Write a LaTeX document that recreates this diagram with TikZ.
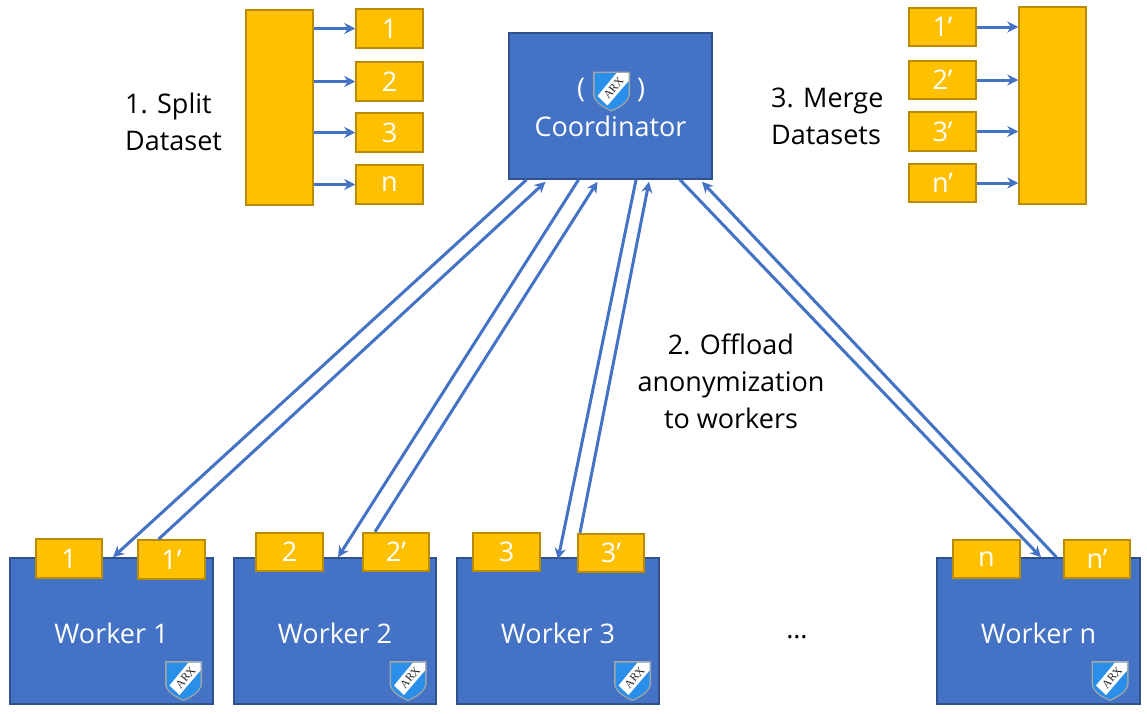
\documentclass[tikz,border=0pt]{standalone}
\usepackage{fontspec}
\setmainfont{Open Sans}
\newfontfamily\shieldfont{Liberation Serif}
\usetikzlibrary{arrows.meta}
\definecolor{boxblue}{HTML}{4472C4}
\definecolor{boxblueline}{HTML}{2F528F}
\definecolor{datafill}{HTML}{FFC000}
\definecolor{dataline}{HTML}{BC8C00}
\definecolor{shieldblue}{HTML}{2A8FE8}
\tikzset{
    hostbox/.style={draw=boxblueline, line width=2pt, fill=boxblue, text=white, font=\fontsize{27}{32}\selectfont, minimum width=202.5pt, minimum height=145.5pt, inner sep=0pt, text height=24pt, text depth=0pt},
    databox/.style={draw=dataline, line width=2pt, fill=datafill, text=white, font=\fontsize{27}{32}\selectfont, minimum width=66.5pt, minimum height=38.5pt, inner sep=0pt},
    tablebox/.style={draw=dataline, line width=2pt, fill=datafill, minimum width=66.5pt, inner sep=0pt},
    flow/.style={draw=boxblue, line width=3pt, -{Stealth[length=11pt, width=11pt]}},
    caption/.style={font=\fontsize{27}{37}\selectfont, inner sep=0pt},
    arxlogo/.pic={
        \fill [gray!70] (-18.5, -19.5) -- (18.5, -19.5) -- (18.5, 4) .. controls (17, 12) and (8, 17) .. (0, 20.5) .. controls (-8, 17) and (-17, 12) .. (-18.5, 4) -- cycle;
        \fill [shieldblue] (-17, -18) -- (17, -18) -- (17, 4) .. controls (16, 11) and (7, 16) .. (0, 19) .. controls (-7, 16) and (-16, 11) .. (-17, 4) -- cycle;
        \fill [white] (-4, 14.5) -- (17, -10) -- (17, -18) -- (5, -18) -- (-14, 5) -- cycle;
        \node [rotate=50, font=\shieldfont\fontsize{11.5}{11.5}\selectfont, text=black!85, inner sep=0pt] at (2, -3) {ARX};
    },
}
\begin{document}
\begin{tikzpicture}[x=1pt, y=-1pt]
    \useasboundingbox (0, 0) rectangle (1147, 713);

    \node [hostbox] (coordinator) at (610.5, 106) {};
    \node [text=white, font=\fontsize{27}{32}\selectfont, inner sep=0pt] (coordinatortext) at (610.5, 126) {Coordinator};
    \node [text=white, font=\fontsize{27}{32}\selectfont, inner sep=0pt] (openparen) at (581, 90) {(};
    \node [text=white, font=\fontsize{27}{32}\selectfont, inner sep=0pt] (closeparen) at (641, 90) {)};
    \pic at (611.5, 91) {arxlogo};

    \node [hostbox] (worker1) at (111.5, 631) {Worker 1};
    \node [hostbox] (worker2) at (335, 631) {Worker 2};
    \node [hostbox] (worker3) at (558, 631) {Worker 3};
    \node [hostbox] (workern) at (1038.5, 631) {Worker n};
    \pic at (183.5, 680.5) {arxlogo};
    \pic at (408, 680.5) {arxlogo};
    \pic at (632.5, 680.5) {arxlogo};
    \pic at (1110, 680.5) {arxlogo};

    \node [databox] (in1) at (69, 558.5) {1};
    \node [databox] (out1) at (171.5, 559.5) {1’};
    \node [databox] (in2) at (289.5, 552) {2};
    \node [databox] (out2) at (396, 552) {2’};
    \node [databox] (in3) at (506.5, 552) {3};
    \node [databox] (out3) at (611, 553) {3’};
    \node [databox] (inn) at (986.5, 559) {n};
    \node [databox] (outn) at (1097, 559) {n’};

    \node [tablebox, minimum height=194.5pt] (wholeset) at (279.5, 107.5) {};
    \node [databox] (split1) at (389.5, 28.5) {1};
    \node [databox] (split2) at (389.5, 81.5) {2};
    \node [databox] (split3) at (389.5, 132.5) {3};
    \node [databox] (splitn) at (389.5, 184.5) {n};
    \draw [flow] (wholeset.east |- split1) -- (split1);
    \draw [flow] (wholeset.east |- split2) -- (split2);
    \draw [flow] (wholeset.east |- split3) -- (split3);
    \draw [flow] (wholeset.east |- splitn) -- (splitn);

    \node [tablebox, minimum height=196.5pt] (mergedset) at (1052.5, 105.5) {};
    \node [databox] (merge1) at (942.5, 27) {1’};
    \node [databox] (merge2) at (942.5, 80) {2’};
    \node [databox] (merge3) at (942.5, 131.5) {3’};
    \node [databox] (mergen) at (942.5, 183) {n’};
    \draw [flow] (merge1) -- (mergedset.west |- merge1);
    \draw [flow] (merge2) -- (mergedset.west |- merge2);
    \draw [flow] (merge3) -- (mergedset.west |- merge3);
    \draw [flow] (mergen) -- (mergedset.west |- mergen);

    \draw [flow] ([xshift=-84pt]coordinator.south) -- ([xshift=1.5pt]worker1.north);
    \draw [flow] ([xshift=-13pt]out1.north) -- ([xshift=-65pt, yshift=-2pt]coordinator.south);
    \draw [flow] ([xshift=-32pt]coordinator.south) -- ([xshift=3pt]worker2.north);
    \draw [flow] ([xshift=-21pt]out2.north) -- ([xshift=-13pt, yshift=-2pt]coordinator.south);
    \draw [flow] ([xshift=25.5pt]coordinator.south) -- ([yshift=-2pt]worker3.north);
    \draw [flow] ([xshift=-31pt]out3.north) -- ([xshift=38.5pt, yshift=-2pt]coordinator.south);
    \draw [flow] ([xshift=69.5pt]coordinator.south) -- ([xshift=2.5pt]workern.north);
    \draw [flow] ([xshift=18pt]workern.north) -- ([xshift=91.5pt, yshift=-2pt]coordinator.south);

    \node [caption, align=left, anchor=west] (splitlabel) at (125, 121.5) {1. Split\\Dataset};
    \node [caption, align=left, anchor=west] (mergelabel) at (771, 116.5) {3. Merge\\Datasets};
    \node [caption, align=center] (offloadlabel) at (731, 381) {2. Offload\\anonymization\\to workers};
    \node [caption] (dotslabel) at (797, 637) {…};
\end{tikzpicture}
\end{document}
